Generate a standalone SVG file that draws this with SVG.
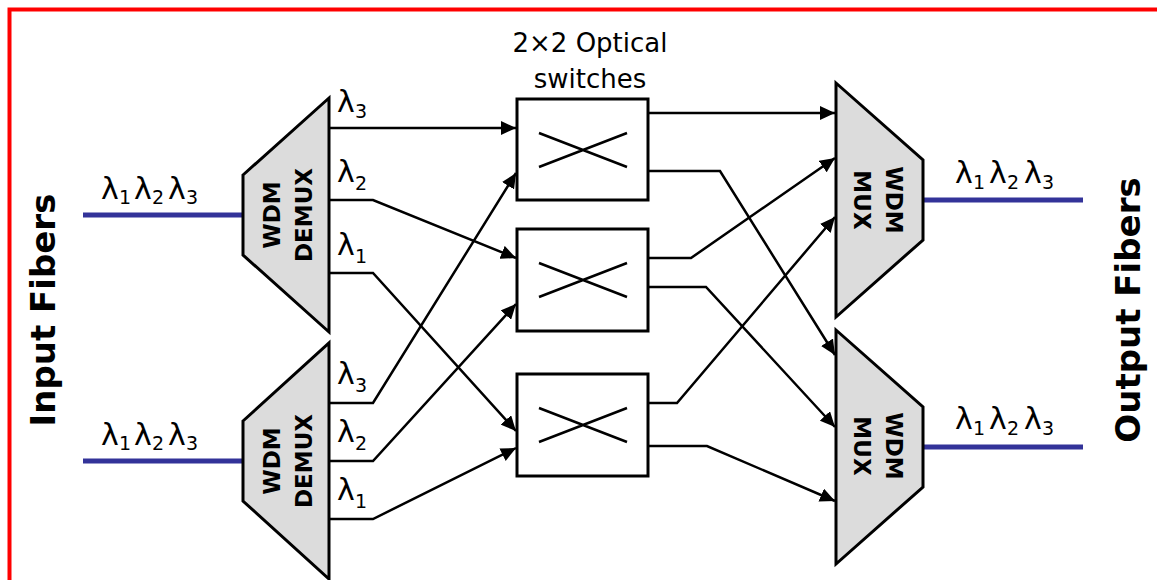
<svg xmlns="http://www.w3.org/2000/svg" width="1157" height="580" viewBox="0 0 1157 580">
<defs>
<marker id="arr" markerUnits="userSpaceOnUse" markerWidth="16" markerHeight="14" refX="15" refY="7" orient="auto">
<path d="M0,0 L15,7 L0,14 z" fill="#000"/>
</marker>
<style>
.dev{fill:#dcdcdc;stroke:#000;stroke-width:3;stroke-linejoin:miter}
.sw{fill:#fff;stroke:#000;stroke-width:3}
.x{stroke:#000;stroke-width:2.5;fill:none}
.c{fill:none;stroke:#000;stroke-width:2.5;stroke-linejoin:miter}
.a{marker-end:url(#arr)}
.fib{stroke:#333399;stroke-width:5;fill:none}
.lb{font-family:"DejaVu Sans",sans-serif;font-weight:bold;font-size:23px;fill:#000}
.big{font-family:"DejaVu Sans",sans-serif;font-weight:bold;font-size:34px;fill:#000}
.t{font-family:"DejaVu Sans",sans-serif;font-size:26px;fill:#000}
.l{font-family:"DejaVu Sans",sans-serif;font-size:30px;fill:#000}
.s{font-family:"DejaVu Sans",sans-serif;font-size:19px;fill:#000}
</style>
</defs>
<rect x="9.5" y="9.5" width="1170" height="600" fill="none" stroke="#ff0000" stroke-width="4"/>

<text class="big" transform="translate(55,310) rotate(-90)" text-anchor="middle">Input Fibers</text>
<text class="big" transform="translate(1140,310) rotate(-90)" text-anchor="middle">Output Fibers</text>

<g id="fibers">
<line class="fib" x1="83" y1="215" x2="243" y2="215"/>
<line class="fib" x1="83" y1="461" x2="243" y2="461"/>
<line class="fib" x1="923" y1="200" x2="1083" y2="200"/>
<line class="fib" x1="923" y1="447" x2="1083" y2="447"/>
</g>

<g id="fiber-labels">
<text class="l" x="101" y="199">λ</text><text class="s" x="119" y="204">1</text>
<text class="l" x="134" y="199">λ</text><text class="s" x="152" y="204">2</text>
<text class="l" x="168" y="199">λ</text><text class="s" x="186" y="204">3</text>
<text class="l" x="101" y="445">λ</text><text class="s" x="119" y="450">1</text>
<text class="l" x="134" y="445">λ</text><text class="s" x="152" y="450">2</text>
<text class="l" x="168" y="445">λ</text><text class="s" x="186" y="450">3</text>
<text class="l" x="955" y="183">λ</text><text class="s" x="973" y="189">1</text>
<text class="l" x="989" y="183">λ</text><text class="s" x="1007" y="189">2</text>
<text class="l" x="1024" y="183">λ</text><text class="s" x="1042" y="189">3</text>
<text class="l" x="955" y="429">λ</text><text class="s" x="973" y="435">1</text>
<text class="l" x="989" y="429">λ</text><text class="s" x="1007" y="435">2</text>
<text class="l" x="1024" y="429">λ</text><text class="s" x="1042" y="435">3</text>
</g>

<g id="demux1">
<polygon class="dev" points="243,175 329,98 329,332 243,255"/>
<text class="lb" transform="translate(280,215) rotate(-90)" text-anchor="middle">WDM</text>
<text class="lb" transform="translate(312,215) rotate(-90)" text-anchor="middle">DEMUX</text>
<text class="l" x="337" y="112">λ</text><text class="s" x="355" y="118">3</text>
<text class="l" x="337" y="182">λ</text><text class="s" x="355" y="190">2</text>
<text class="l" x="337" y="255">λ</text><text class="s" x="355" y="263">1</text>
</g>

<g id="demux2">
<polygon class="dev" points="243,421 329,343 329,579 243,501"/>
<text class="lb" transform="translate(280,461) rotate(-90)" text-anchor="middle">WDM</text>
<text class="lb" transform="translate(312,461) rotate(-90)" text-anchor="middle">DEMUX</text>
<text class="l" x="337" y="384">λ</text><text class="s" x="355" y="392">3</text>
<text class="l" x="337" y="442">λ</text><text class="s" x="355" y="450">2</text>
<text class="l" x="337" y="500">λ</text><text class="s" x="355" y="508">1</text>
</g>

<g id="switch-label">
<text class="t" x="590" y="52" text-anchor="middle">2×2 Optical</text>
<text class="t" x="590" y="88" text-anchor="middle">switches</text>
</g>

<g id="switch1">
<rect class="sw" x="517" y="99" width="131" height="101"/>
<path class="x" d="M539,133 L627,167 M539,167 L627,133"/>
</g>
<g id="switch2">
<rect class="sw" x="517" y="229" width="131" height="102"/>
<path class="x" d="M539,263 L627,297 M539,297 L627,263"/>
</g>
<g id="switch3">
<rect class="sw" x="517" y="374" width="131" height="102"/>
<path class="x" d="M539,408 L627,442 M539,442 L627,408"/>
</g>

<g id="mux1">
<polygon class="dev" points="836,83 923,160 923,240 836,317"/>
<text class="lb" transform="translate(886,200) rotate(90)" text-anchor="middle">WDM</text>
<text class="lb" transform="translate(854,200) rotate(90)" text-anchor="middle">MUX</text>
</g>
<g id="mux2">
<polygon class="dev" points="836,330 923,407 923,487 836,564"/>
<text class="lb" transform="translate(886,446) rotate(90)" text-anchor="middle">WDM</text>
<text class="lb" transform="translate(854,446) rotate(90)" text-anchor="middle">MUX</text>
</g>

<g id="connectors">
<path class="c a" d="M329,128 L516,128"/>
<path class="c a" d="M329,200 L373,200 L516,258"/>
<path class="c a" d="M329,273 L373,273 L516,431"/>
<path class="c a" d="M329,403 L373,403 L516,173"/>
<path class="c a" d="M329,461 L373,461 L516,304"/>
<path class="c a" d="M329,519 L373,519 L516,448"/>
<path class="c a" d="M648,113 L835,113"/>
<path class="c a" d="M648,171 L720,171 L835,355"/>
<path class="c a" d="M648,258 L691,258 L835,158"/>
<path class="c a" d="M648,287 L706,287 L835,427"/>
<path class="c a" d="M648,403 L677,403 L835,217"/>
<path class="c a" d="M648,446 L707,446 L835,501"/>
</g>
</svg>
